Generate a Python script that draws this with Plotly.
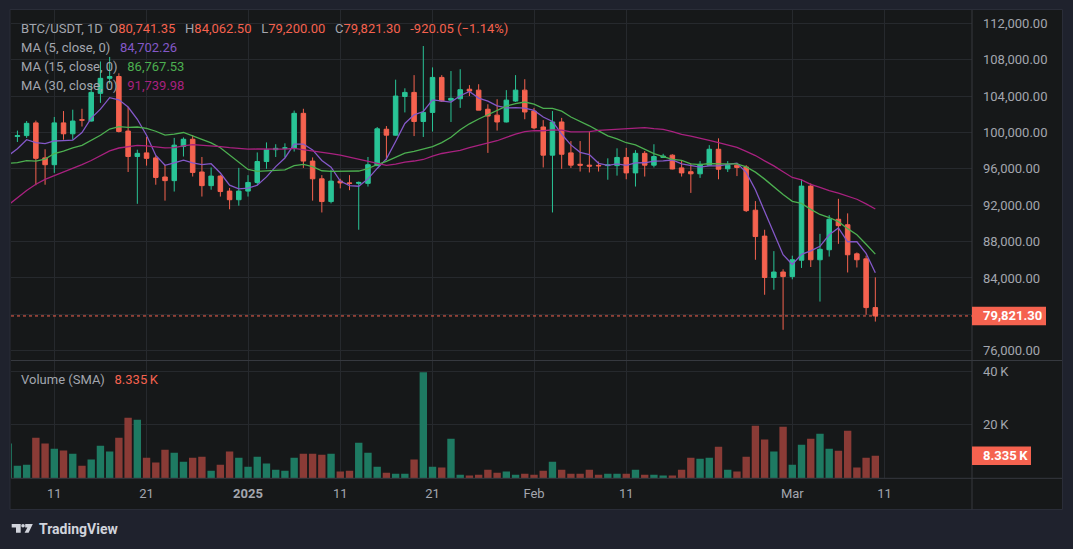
import pandas as pd
import plotly.graph_objects as go

# ---------------- data ----------------
dates = pd.date_range("2024-12-06", "2025-03-10", freq="D")

# closes before the visible window (Nov 7 .. Dec 5), only feed the moving averages
pre_closes = [75900, 76500, 76700, 80400, 88700, 87950, 90500, 87400, 91050, 90600,
              89850, 90450, 92300, 94300, 98350, 98900, 97700, 97900, 93000, 91950,
              95950, 95650, 97450, 96400, 97200, 95850, 96000, 98750, 97050]

opens = [
    97100, 99550, 99650, 101050, 97200, 96450, 101050, 99850, 101400, 101250,
    104300, 105950, 106150, 100150, 97350, 97750, 97200, 95100, 94700, 98450,
    99250, 95650, 94150, 95200, 93550, 92600,
    93550, 94500, 96800, 98100, 98250, 98300, 102100, 96850, 94900, 92400,
    94650, 94450, 94400, 94400, 96350, 100350, 99700, 103950, 104400, 101200,
    102200, 106050, 103550, 103700, 104750, 104650, 102550, 101900, 101150, 103450, 104650,
    102350, 100600, 97500, 101150, 97750, 96500, 96400, 96380, 96350, 96350,
    97250, 95550, 97700, 96400, 97250, 97500, 96100, 95680, 95450, 96400,
    98150, 96000, 96400, 96200, 91450, 88600, 84050, 84650,
    84150, 85950, 94100, 86000, 87100, 90450, 89850, 86650, 86100, 80741.35]

highs = [
    101900, 100200, 101250, 101300, 98150, 101700, 102350, 102500, 102600, 105250,
    107800, 108300, 106500, 102800, 98100, 99500, 97450, 96450, 99400, 99450,
    99700, 97300, 96150, 95300, 93900, 96100,
    95300, 97800, 98900, 98700, 98800, 102400, 102600, 97250, 95300, 95900,
    94900, 95300, 94600, 97300, 100600, 100700, 105800, 104850, 106300, 109500,
    107150, 106300, 106750, 106950, 105200, 105300, 103100, 103650, 104650, 106300, 105850,
    102700, 101350, 102350, 101600, 99050, 99050, 100050, 96800, 97150, 98250,
    98300, 98050, 97950, 98700, 97650, 97600, 96950, 96600, 96850, 98600,
    99350, 96850, 96500, 96400, 92450, 89300, 86950, 84950,
    86450, 94850, 94400, 88850, 90900, 92700, 91100, 86800, 86450, 84062.50]

lows = [
    96500, 98950, 99400, 94200, 94250, 95550, 99200, 99200, 100650, 101200,
    103250, 105350, 100000, 95650, 92150, 96350, 94250, 92500, 93500, 97350,
    95150, 92950, 93700, 92950, 91550, 91950,
    92950, 94200, 96000, 97300, 97250, 97900, 96100, 92500, 91200, 92200,
    93850, 93650, 89300, 94050, 96300, 96950, 99650, 102200, 99600, 99500,
    100100, 103350, 101150, 102700, 104000, 102450, 97750, 100200, 101100, 103350, 101450,
    100350, 96150, 91200, 96000, 96100, 95700, 95600, 95700, 94800, 95250,
    94850, 94050, 95150, 96150, 97200, 95950, 95150, 93350, 95000, 96400,
    94850, 95650, 95200, 91250, 86000, 82150, 82700, 78300,
    83850, 85100, 85200, 81400, 86350, 87750, 84600, 85150, 79950, 79200]

closes = [
    99550, 99650, 101000, 97150, 96450, 101050, 99850, 101250, 101350, 104400,
    105950, 106150, 100100, 97350, 97700, 97150, 95050, 94700, 98600, 99250,
    95600, 94150, 95200, 93500, 92600, 93550,
    94500, 96800, 98100, 98250, 98300, 102100, 96850, 94900, 92400, 94650,
    94450, 94400, 94500, 96450, 100400, 99700, 104000, 104400, 101200, 102200,
    106050, 103450, 103750, 104700, 104550, 102450, 101800, 101150, 103550, 104650, 102250,
    100500, 97500, 101150, 97600, 96400, 96400, 96300, 96330, 96420, 97250,
    95550, 97700, 96400, 97350, 97400, 95980, 95550, 95450, 96500, 98150,
    95950, 96400, 96150, 91400, 88550, 84050, 84650, 84150,
    86000, 94100, 86000, 87150, 90450, 89750, 86550, 86000, 80741.35, 79821.30]

volumes_k = [
    12.9, 4.6, 5.0, 15.1, 12.9, 11.0, 10.3, 9.1, 4.6, 6.9,
    12.1, 9.9, 15.1, 22.6, 21.9, 7.6, 5.8, 10.6, 9.5, 6.1,
    7.6, 8.0, 2.75, 5.0, 9.9, 7.6,
    4.25, 8.0, 5.4, 3.1, 2.75, 7.6, 9.1, 9.1, 8.75, 9.1,
    2.4, 2.75, 13.25, 9.5, 4.25, 2.0, 1.6, 1.6, 6.9, 39.7,
    4.25, 3.9, 14.75, 1.25, 0.9, 1.25, 3.1, 2.0, 2.4, 1.25, 1.6,
    1.25, 2.75, 6.1, 3.1, 1.6, 1.6, 3.1, 1.25, 1.6, 1.6,
    1.6, 3.1, 1.25, 1.25, 0.9, 0.9, 3.1, 7.6, 7.25, 7.6,
    11.75, 3.1, 2.4, 8.0, 19.6, 14.4, 9.9, 19.25,
    5.0, 12.5, 14.75, 16.6, 11.0, 10.25, 17.75, 3.9, 7.6, 8.335]

ma_periods = [5, 15, 30]
ma_legend_values = ["84,702.26", "86,767.53", "91,739.98"]
symbol_text = "BTC/USDT, 1D"
change_text = "-920.05 (\u22121.14%)"
volume_legend_value = "8.335\u2009K"

x_tick_dates = ["2024-12-11", "2024-12-21", "2025-01-01", "2025-01-11", "2025-01-21",
                "2025-02-01", "2025-02-11", "2025-03-01", "2025-03-11"]
x_tick_text = ["11", "21", "<b>2025</b>", "11", "21", "Feb", "11", "Mar", "11"]
price_ticks = [76000, 80000, 84000, 88000, 92000, 96000, 100000, 104000, 108000, 112000]
vol_ticks = [20000, 40000]
vol_tick_text = ["20\u2009K", "40\u2009K"]

# ---------------- style ----------------
W, H = 1073, 549
ML, MR, MT, MB = 11, 101, 10, 71
PW, PH = W - ML - MR, H - MT - MB


def px(x):
    return (x - ML) / PW


def py(y):
    return (H - MB - y) / PH


FONT = "Roboto"
OUTER = "#1f222d"
BG = "#161819"
GRID = "#26292d"
SEP = "#36393f"
TXT = "#a3a6ae"
UP = "#29c496"
DOWN = "#f5624f"
VUP = "#1e7a62"
VDN = "#8a3b36"
MA_COLORS = ["#8458c8", "#4caf50", "#a8217f"]

# ---------------- derived series ----------------
all_closes = pd.Series(pre_closes + closes, dtype=float)
n_pre = len(pre_closes)
mas = [all_closes.rolling(p).mean().values[n_pre:] for p in ma_periods]
vols = [v * 1000 for v in volumes_k]
vol_colors = [VUP if c >= o else VDN for o, c in zip(opens, closes)]

fig = go.Figure()
fig.add_trace(go.Bar(x=dates, y=vols, marker=dict(color=vol_colors, line=dict(width=0)),
                     width=0.8 * 86400000, xaxis="x", yaxis="y2", hoverinfo="skip"))
fig.add_trace(go.Candlestick(
    x=dates, open=opens, high=highs, low=lows, close=closes,
    increasing=dict(line=dict(color=UP, width=1), fillcolor=UP),
    decreasing=dict(line=dict(color=DOWN, width=1), fillcolor=DOWN),
    whiskerwidth=0, xaxis="x", yaxis="y", hoverinfo="skip"))
for ma, col in zip(mas, MA_COLORS):
    fig.add_trace(go.Scatter(x=dates, y=ma, mode="lines", line=dict(color=col, width=1.3),
                             xaxis="x", yaxis="y", hoverinfo="skip"))

split = py(360.5)
fig.update_layout(
    width=W, height=H, margin=dict(l=ML, r=MR, t=MT, b=MB),
    paper_bgcolor=OUTER, plot_bgcolor=BG, showlegend=False,
    font=dict(family=FONT, size=13, color=TXT),
    xaxis=dict(type="date", anchor="y2", domain=[0, 1],
               range=["2024-12-06 07:20", "2025-03-20 11:30"],
               tickvals=x_tick_dates, ticktext=x_tick_text, ticks="",
               ticklabelstandoff=6, tickfont=dict(size=13, color=TXT),
               showgrid=True, gridcolor=GRID, gridwidth=1, zeroline=False,
               showline=False, rangeslider=dict(visible=False), fixedrange=True),
    yaxis=dict(domain=[split, 1], anchor="x", side="right", range=[74922, 113462],
               tickvals=price_ticks, tickformat=",.2f", ticks="", ticklabelstandoff=10,
               showgrid=True, gridcolor=GRID, zeroline=False, showline=False,
               tickfont=dict(size=13, color=TXT), fixedrange=True),
    yaxis2=dict(domain=[0, split], anchor="x", side="right", range=[0, 44090],
                tickvals=vol_ticks, ticktext=vol_tick_text, ticks="", ticklabelstandoff=10,
                showgrid=True, gridcolor=GRID, zeroline=False, showline=False,
                tickfont=dict(size=13, color=TXT), fixedrange=True),
)

shapes = [
    dict(type="rect", xref="paper", yref="paper", x0=px(10), x1=px(1062.5), y0=py(509.5), y1=py(9.5),
         fillcolor=BG, line=dict(color="#2a2d38", width=1), layer="below"),
    dict(type="line", xref="paper", yref="paper", x0=1, x1=1, y0=py(509.5), y1=py(10),
         line=dict(color=SEP, width=1)),
    dict(type="line", xref="paper", yref="paper", x0=px(11), x1=px(1062), y0=split, y1=split,
         line=dict(color=SEP, width=1)),
    dict(type="line", xref="paper", yref="paper", x0=px(11), x1=px(1062), y0=py(478.3), y1=py(478.3),
         line=dict(color=SEP, width=1)),
    dict(type="line", xref="paper", yref="y", x0=0, x1=1, y0=closes[-1], y1=closes[-1],
         line=dict(color=DOWN, width=1, dash="dot")),
    dict(type="rect", xref="paper", yref="y", x0=1, x1=px(1046), ysizemode="pixel",
         yanchor=closes[-1], y0=-9.2, y1=9.2, fillcolor=DOWN, line=dict(width=0)),
    dict(type="rect", xref="paper", yref="y2", x0=1, x1=px(1031), ysizemode="pixel",
         yanchor=vols[-1], y0=-9.2, y1=9.2, fillcolor=DOWN, line=dict(width=0)),
]
# TradingView logo glyph
LOGO = "#d1d4dc"


def poly(pts):
    return "M " + " L ".join(f"{px(a):.5f},{py(b):.5f}" for a, b in pts) + " Z"


shapes.append(dict(type="path", xref="paper", yref="paper",
                   path=poly([(11.7, 524), (20.7, 524), (20.7, 532.7), (16, 532.7), (16, 527.6), (11.7, 527.6)]),
                   fillcolor=LOGO, line=dict(width=0)))
shapes.append(dict(type="circle", xref="paper", yref="paper", x0=px(21.2), x1=px(24.8),
                   y0=py(527.6), y1=py(524), fillcolor=LOGO, line=dict(width=0)))
shapes.append(dict(type="path", xref="paper", yref="paper",
                   path=poly([(25.2, 524), (32.8, 524), (28.6, 532.7), (24.6, 532.7), (27.4, 527.6), (25.2, 527.6)]),
                   fillcolor=LOGO, line=dict(width=0)))
fig.update_layout(shapes=shapes)

SP3 = "\u00a0\u00a0\u00a0"


def red(s):
    return f"<span style='color:{DOWN}'>{s}</span>"


line1 = (symbol_text + "\u00a0\u00a0" + "O" + red(f"{opens[-1]:,.2f}") + SP3 +
         "H" + red(f"{highs[-1]:,.2f}") + SP3 + "L" + red(f"{lows[-1]:,.2f}") + SP3 +
         "C" + red(f"{closes[-1]:,.2f}") + SP3 + red(change_text))

ann = [dict(xref="paper", yref="paper", x=px(19), y=py(28.3), xanchor="left", yanchor="middle",
            text=line1, showarrow=False, font=dict(family=FONT, size=13, color=TXT))]
for i, (p, v, col) in enumerate(zip(ma_periods, ma_legend_values, MA_COLORS)):
    ann.append(dict(xref="paper", yref="paper", x=px(19), y=py(47.3 + 19 * i), xanchor="left",
                    yanchor="middle", showarrow=False, font=dict(family=FONT, size=13, color=TXT),
                    text=f"MA ({p}, close, 0){SP3}<span style='color:{col}'>{v}</span>"))
ann.append(dict(xref="paper", yref="paper", x=px(19), y=py(379), xanchor="left", yanchor="middle",
                showarrow=False, font=dict(family=FONT, size=13, color=TXT),
                text=f"Volume (SMA){SP3}" + red(volume_legend_value)))
ann.append(dict(xref="paper", yref="y", x=px(981), y=closes[-1], xanchor="left", yanchor="middle",
                showarrow=False, text=f"<b>{closes[-1]:,.2f}</b>",
                font=dict(family=FONT, size=13, color="#ffffff")))
ann.append(dict(xref="paper", yref="y2", x=px(981), y=vols[-1], xanchor="left", yanchor="middle",
                showarrow=False, text=f"<b>{volume_legend_value}</b>",
                font=dict(family=FONT, size=13, color="#ffffff")))
ann.append(dict(xref="paper", yref="paper", x=px(36.5), y=py(528.5), xanchor="left", yanchor="middle",
                showarrow=False, text="<b>TradingView</b>",
                font=dict(family=FONT, size=14, color=LOGO)))
fig.update_layout(annotations=ann)

fig.write_html("out.html", config={"displayModeBar": False})
